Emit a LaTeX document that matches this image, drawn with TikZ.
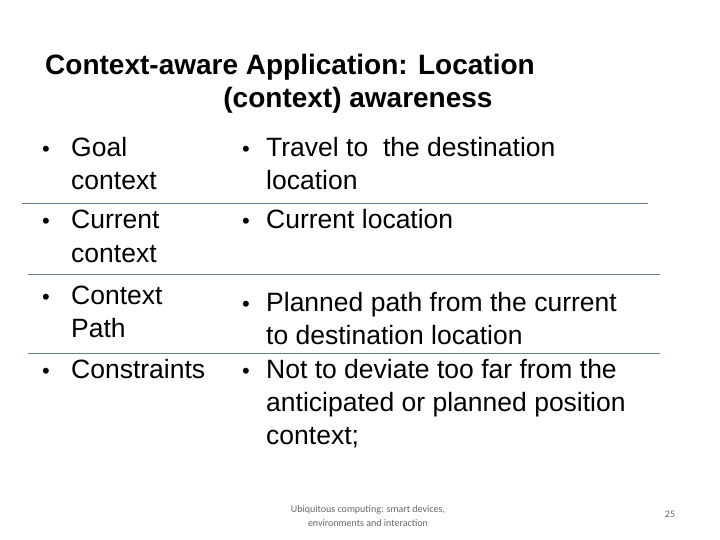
\documentclass[tikz,border=0pt]{standalone}
\usepackage{fontspec}
\setmainfont{Liberation Sans}
\newfontfamily\calib{Carlito}
\definecolor{rulec}{RGB}{105,125,145}
\begin{document}
\begin{tikzpicture}[x=1pt,y=-1pt,
  txt/.style={anchor=base west,inner sep=0pt,font=\fontsize{26.5}{30}\selectfont},
  bul/.style={anchor=base west,inner sep=0pt,font=\fontsize{22}{28}\selectfont},
  rule/.style={draw=rulec,line width=0.8pt},
  foot/.style={anchor=base,inner sep=0pt,text=gray!80!black,font=\calib\fontsize{10}{12}\selectfont}]
\useasboundingbox (0,0) rectangle (720,540);
\node[anchor=base,inner sep=0pt,font=\fontsize{28}{32}\bfseries] (t1) at (290,75) {Context-aware Application: Location};
\node[anchor=base,inner sep=0pt,font=\fontsize{28}{32}\bfseries] (t2) at (358,108) {(context) awareness};
% left column
\foreach \n/\y in {a/157,b/229,c/304,d/378}{\node[bul] (lb\n) at (42,\y) {•};}
\node[txt] (l1) at (71,157) {Goal};
\node[txt] (l2) at (71,190) {context};
\node[txt] (l3) at (71,229) {Current};
\node[txt] (l4) at (71,262) {context};
\node[txt] (l5) at (71,304) {Context};
\node[txt] (l6) at (71,337) {Path};
\node[txt] (l7) at (71,378) {Constraints};
% right column
\foreach \n/\y in {a/157,b/229,c/311,d/378}{\node[bul] (rb\n) at (242,\y) {•};}
\node[txt] (r1) at (266,157) {Travel to\ \ the destination};
\node[txt] (r2) at (266,190) {location};
\node[txt] (r3) at (266,229) {Current location};
\node[txt] (r4) at (266,311) {Planned path from the current};
\node[txt] (r5) at (266,344) {to destination location};
\node[txt] (r6) at (266,378) {Not to deviate too far from the};
\node[txt] (r7) at (266,411) {anticipated or planned position};
\node[txt] (r8) at (266,444) {context;};
% rules
\coordinate (a1) at (22,203); \coordinate (a2) at (648,203);
\coordinate (b1) at (28,274); \coordinate (b2) at (660,274);
\coordinate (c1) at (28,353); \coordinate (c2) at (660,353);
\draw[rule] (a1) -- (a2);
\draw[rule] (b1) -- (b2);
\draw[rule] (c1) -- (c2);
% footer
\node[foot] (f1) at (368,512) {Ubiquitous computing: smart devices,};
\node[foot] (f2) at (368,526) {environments and interaction};
\node[foot] (pg) at (670,517) {25};
\end{tikzpicture}
\end{document}
